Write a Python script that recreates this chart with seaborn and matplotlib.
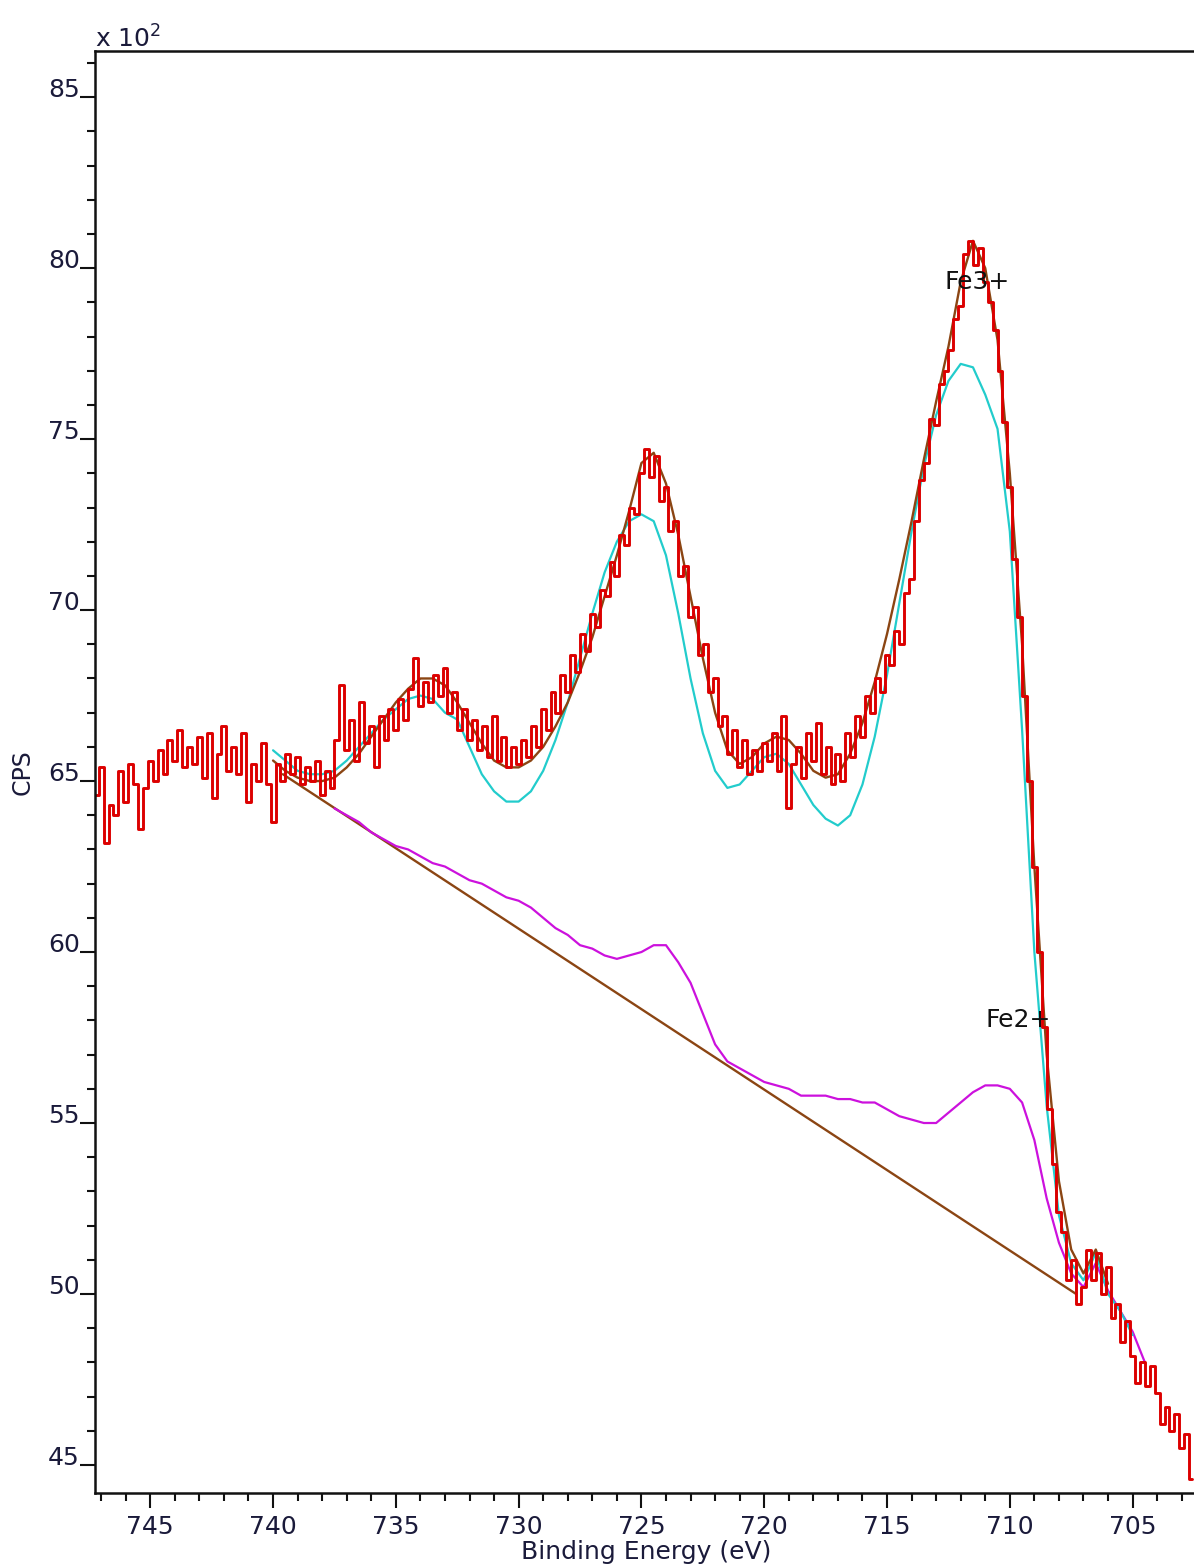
import numpy as np
import matplotlib
matplotlib.use("Agg")
import matplotlib.pyplot as plt
from matplotlib.ticker import MultipleLocator
import seaborn as sns

# ---- Fe 2p spectrum (CPS in units of 10^2) ----
# raw counts, 0.2 eV steps from 747.2 eV down to 702.6 eV
raw_start, raw_step = 747.2, 0.2
raw_cps = [
    64.6, 65.4, 63.2, 64.3, 64.0, 65.3, 64.4, 65.5, 64.9, 63.6, 64.8, 65.6,
    65.0, 65.9, 65.2, 66.2, 65.6, 66.5, 65.4, 66.0, 65.5, 66.3,
    65.1, 66.4, 64.5, 65.8, 66.6, 65.3, 66.0, 65.2, 66.4, 64.4,
    65.5, 65.0, 66.1, 64.9, 63.8,
    65.5, 65.0, 65.8, 65.2, 65.7, 64.9, 65.4, 65.0, 65.6, 64.6,
    65.3, 64.8, 66.2, 67.8, 65.9, 66.8, 65.6, 67.3, 66.1, 66.6,
    65.4, 66.9, 66.2, 67.1, 66.5,
    67.4, 66.8, 67.7, 68.6, 67.2, 67.9, 67.3, 68.1, 67.5, 68.3,
    67.0, 67.6, 66.5, 67.1, 66.2, 66.8, 65.9, 66.6, 65.7, 66.9,
    65.6, 66.3, 65.4, 66.0, 65.5,
    66.2, 65.7, 66.6, 66.0, 67.1, 66.5, 67.6, 67.0, 68.1, 67.6,
    68.7, 68.2, 69.3, 68.8, 69.9, 69.5, 70.6, 70.4, 71.4, 71.0,
    72.2, 71.9, 73.0, 72.8, 74.0,
    74.7, 73.9, 74.5, 73.2, 73.6, 72.3, 72.6, 71.0, 71.3, 69.8,
    70.1, 68.7, 69.0, 67.6, 68.0, 66.6, 66.9, 65.8, 66.5, 65.4,
    66.2, 65.2, 65.9, 65.3, 66.1,
    65.6, 66.4, 65.3, 66.9, 64.2, 65.5, 66.0, 65.1, 66.4, 65.6,
    66.7, 65.2, 66.0, 64.9, 65.8, 65.0, 66.4, 65.7, 66.9, 66.3,
    67.5, 67.0, 68.0, 67.6, 68.7,
    68.4, 69.4, 69.0, 70.5, 70.9, 72.6, 73.8, 74.3, 75.6, 75.4,
    76.6, 77.0, 77.6, 78.5, 78.9, 80.4, 80.8, 80.1, 80.6, 79.6,
    79.0, 78.2, 77.0, 75.5, 73.6,
    71.5, 69.8, 67.5, 65.0, 62.5, 60.0, 57.8, 55.4, 53.8, 52.4,
    51.8, 50.4, 51.0, 49.7, 50.2, 51.3, 50.4, 51.2, 50.0, 50.8,
    49.3, 49.7, 48.6, 49.2, 48.2,
    47.4, 48.0, 47.3, 47.9, 47.1, 46.2, 46.7, 46.0, 46.5, 45.5,
    45.9, 44.6,
]

# fit envelope, 0.5 eV steps from 740.0 eV
env_start, fit_step = 740.0, 0.5
envelope_cps = [
    65.6, 65.3, 65.1, 65.0, 65.0, 65.1, 65.4, 65.8, 66.3, 66.8,
    67.3, 67.7, 68.0, 68.0, 67.8, 67.3, 66.7, 66.1, 65.6, 65.4,
    65.4, 65.6, 66.0, 66.6, 67.3, 68.2, 69.2, 70.4, 71.6, 72.9,
    74.3, 74.6, 73.7, 72.2, 70.4, 68.6, 67.0, 65.9, 65.5, 65.7,
    66.1, 66.3, 66.2, 65.8, 65.3, 65.1, 65.2, 65.8, 66.7, 67.9,
    69.3, 70.9, 72.6, 74.4, 76.1, 77.7, 79.6, 80.8, 80.0, 77.9,
    74.0, 69.0, 62.5, 57.0, 53.3, 51.3, 50.6, 51.3, 50.3,
]

# component curve, 0.5 eV steps from 740.0 eV
comp_start = 740.0
component_cps = [
    65.9, 65.6, 65.3, 65.2, 65.2, 65.3, 65.6, 66.0, 66.4, 66.8,
    67.1, 67.4, 67.5, 67.4, 67.0, 66.8, 66.0, 65.2, 64.7, 64.4,
    64.4, 64.7, 65.3, 66.2, 67.3, 68.6, 69.9, 71.1, 72.0, 72.6,
    72.8, 72.6, 71.6, 69.9, 68.0, 66.4, 65.3, 64.8, 64.9, 65.3,
    65.7, 65.8, 65.5, 64.9, 64.3, 63.9, 63.7, 64.0, 64.9, 66.3,
    68.1, 70.2, 72.3, 74.2, 75.7, 76.7, 77.2, 77.1, 76.3, 75.3,
    72.3, 66.5, 60.0, 55.5, 52.3, 50.9, 50.4, 51.2, 50.0, 49.5,
    48.8,
]

# Shirley-type background, 0.5 eV steps from 737.5 eV
shirley_start = 737.5
shirley_cps = [
    64.2, 64.0, 63.8, 63.5, 63.3, 63.1, 63.0, 62.8, 62.6, 62.5,
    62.3, 62.1, 62.0, 61.8, 61.6, 61.5, 61.3, 61.0, 60.7, 60.5,
    60.2, 60.1, 59.9, 59.8, 59.9, 60.0, 60.2, 60.2, 59.7, 59.1,
    58.2, 57.3, 56.8, 56.6, 56.4, 56.2, 56.1, 56.0, 55.8, 55.8,
    55.8, 55.7, 55.7, 55.6, 55.6, 55.4, 55.2, 55.1, 55.0, 55.0,
    55.3, 55.6, 55.9, 56.1, 56.1, 56.0, 55.6, 54.5, 52.8, 51.5,
    50.6, 50.2, 50.9, 50.1, 49.5, 48.9, 48.0,
]

# linear background end points
linear_be = [739.6, 707.3]
linear_cps = [65.2, 50.0]

# peak annotations
peak_labels = ["Fe3+", "Fe2+"]
peak_label_be = [712.65, 711.0]
peak_label_cps = [79.6, 58.0]


def energy_axis(start, step, n):
    return start - step * np.arange(n)


raw_be = energy_axis(raw_start, raw_step, len(raw_cps))
env_be = energy_axis(env_start, fit_step, len(envelope_cps))
comp_be = energy_axis(comp_start, fit_step, len(component_cps))
shirley_be = energy_axis(shirley_start, fit_step, len(shirley_cps))

sns.set_style("ticks")
plt.rcParams["font.family"] = ["DejaVu Sans"]

W, H = 1194, 1568
fig = plt.figure(figsize=(W / 100, H / 100), dpi=100)
ax = fig.add_axes([95 / W, 75 / H, (W - 95) / W, 1442 / H])

RED = "#dc0000"
BROWN = "#8b4513"
CYAN = "#22cccc"
MAGENTA = "#cc11dd"
TEXT = "#1a1a3a"

sns.lineplot(x=linear_be, y=linear_cps, ax=ax, color=BROWN, lw=1.7,
             errorbar=None)
sns.lineplot(x=shirley_be, y=shirley_cps, ax=ax, color=MAGENTA, lw=1.6,
             errorbar=None)
sns.lineplot(x=comp_be, y=component_cps, ax=ax, color=CYAN, lw=1.6,
             errorbar=None)
sns.lineplot(x=env_be, y=envelope_cps, ax=ax, color=BROWN, lw=1.7,
             errorbar=None)
sns.lineplot(x=raw_be, y=raw_cps, ax=ax, color=RED, lw=2.1,
             errorbar=None, drawstyle="steps-mid")

for lbl, xb, yc in zip(peak_labels, peak_label_be, peak_label_cps):
    ax.text(xb, yc, lbl, fontsize=18, color="#111111", ha="left", va="center")

ax.set_xlim(747.25, 702.5)
ax.set_ylim(44.18, 86.35)
ax.xaxis.set_major_locator(MultipleLocator(5))
ax.xaxis.set_minor_locator(MultipleLocator(1))
ax.yaxis.set_major_locator(MultipleLocator(5))
ax.yaxis.set_minor_locator(MultipleLocator(1))

ax.set_xlabel("")
ax.set_ylabel("")
ax.spines["right"].set_visible(False)
for side in ["left", "top", "bottom"]:
    ax.spines[side].set_linewidth(1.8)
    ax.spines[side].set_color("#111111")

ax.tick_params(axis="both", which="major", length=11, width=1.5,
               color="#111111", labelsize=18, labelcolor=TEXT)
ax.tick_params(axis="both", which="minor", length=5.5, width=1.5,
               color="#111111")
ax.tick_params(axis="x", which="major", pad=5)
ax.tick_params(axis="y", which="major", pad=0)
fig.canvas.draw()
for t in ax.get_yticklabels():
    t.set_va("baseline")

fig.text(646 / W, 1 - 1552 / H, "Binding Energy (eV)", fontsize=18,
         color=TEXT, ha="center", va="center")
fig.text(23 / W, 1 - 772 / H, "CPS", fontsize=17, color=TEXT,
         rotation=90, ha="center", va="center")
fig.text(95 / W, 1 - 48 / H, r"x 10$^{2}$", fontsize=18, color=TEXT,
         ha="left", va="baseline")

fig.savefig("out.png", dpi=100)
